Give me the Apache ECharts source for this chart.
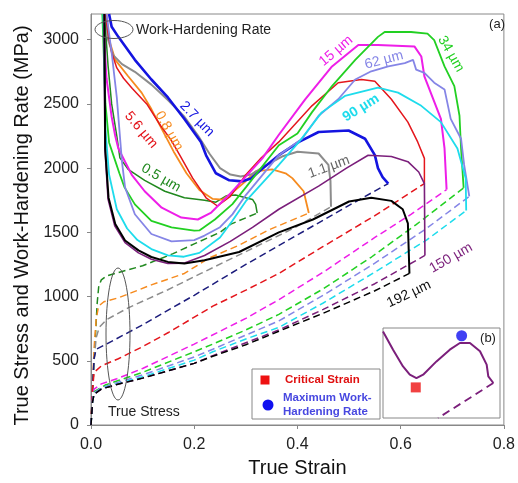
<!DOCTYPE html>
<html>
<head>
<meta charset="utf-8">
<script src="https://cdn.jsdelivr.net/npm/echarts@6/dist/echarts.min.js"></script>
<style>html,body{margin:0;padding:0;background:#fff;}#c{width:518px;height:483px;}</style>
</head>
<body>
<div id="c"></div>
<script>
// ---- tick values ----
const strainTicks = [0, 0.2, 0.4, 0.6, 0.8];
const stressTicks = [0, 500, 1000, 1500, 2000, 2500, 3000];

// ---- work-hardening rate curves [true strain, MPa] ----
const whr05 = [[0.026,3200],[0.033,2800],[0.04,2500],[0.05,2250],[0.056,2080],[0.072,1990],[0.104,1905],[0.143,1820],[0.181,1769],[0.22,1750],[0.242,1735],[0.262,1784],[0.28,1790],[0.3,1769],[0.313,1756],[0.319,1718],[0.322,1650]];
const whr08 = [[0.03,3200],[0.035,3000],[0.047,2843],[0.072,2715],[0.098,2588],[0.117,2460],[0.137,2306],[0.16,2130],[0.185,1960],[0.21,1830],[0.236,1760],[0.255,1755],[0.274,1810],[0.3,1900],[0.319,1974],[0.351,1990],[0.377,1960],[0.39,1922],[0.412,1820],[0.422,1650]];
const whr11 = [[0.028,3200],[0.033,3000],[0.043,2880],[0.06,2810],[0.085,2750],[0.117,2650],[0.149,2530],[0.181,2400],[0.207,2255],[0.23,2110],[0.25,2000],[0.27,1950],[0.29,1935],[0.31,1950],[0.338,2020],[0.37,2090],[0.4,2127],[0.441,2114],[0.46,2025],[0.464,1900],[0.465,1700]];
const whr27 = [[0.035,3200],[0.04,3100],[0.053,3022],[0.085,2843],[0.117,2690],[0.149,2550],[0.181,2383],[0.213,2204],[0.223,2100],[0.242,1960],[0.268,1905],[0.293,1897],[0.31,1920],[0.33,1990],[0.364,2101],[0.403,2204],[0.441,2281],[0.499,2293],[0.531,2229],[0.55,2101],[0.556,2000],[0.565,1930],[0.576,1880]];
const whr56 = [[0.028,3200],[0.033,3050],[0.04,2900],[0.05,2780],[0.063,2700],[0.08,2620],[0.108,2500],[0.135,2330],[0.155,2220],[0.172,2101],[0.197,1922],[0.223,1769],[0.245,1705],[0.27,1780],[0.3,1948],[0.33,2080],[0.364,2204],[0.428,2485],[0.479,2665],[0.524,2690],[0.55,2677],[0.582,2536],[0.614,2358],[0.633,2204],[0.646,2076],[0.646,1880]];
const whr15 = [[0.023,3200],[0.03,2700],[0.04,2400],[0.047,2250],[0.053,2153],[0.066,2050],[0.079,1948],[0.104,1820],[0.137,1692],[0.175,1615],[0.207,1600],[0.233,1654],[0.268,1794],[0.332,2076],[0.364,2260],[0.415,2536],[0.467,2792],[0.518,2958],[0.556,2958],[0.627,2946],[0.64,2869],[0.646,2715],[0.678,2383],[0.685,2153],[0.689,1833]];
const whr34 = [[0.022,3200],[0.028,2500],[0.035,2200],[0.045,2080],[0.055,1960],[0.065,1850],[0.085,1718],[0.117,1590],[0.156,1539],[0.2,1513],[0.21,1515],[0.24,1600],[0.274,1720],[0.3,1850],[0.364,2178],[0.4,2270],[0.428,2434],[0.467,2639],[0.512,2843],[0.556,3022],[0.569,3060],[0.62,3060],[0.652,3048],[0.665,2997],[0.685,2792],[0.704,2639],[0.714,2408],[0.717,2153],[0.722,1846]];
const whr62 = [[0.03,3200],[0.04,2900],[0.05,2550],[0.055,2300],[0.06,2050],[0.066,1850],[0.085,1641],[0.117,1487],[0.156,1430],[0.2,1440],[0.22,1475],[0.25,1540],[0.274,1640],[0.3,1790],[0.364,2101],[0.409,2229],[0.441,2408],[0.479,2536],[0.512,2690],[0.543,2754],[0.576,2792],[0.608,2818],[0.624,2843],[0.63,2767],[0.646,2741],[0.665,2665],[0.685,2613],[0.697,2383],[0.717,2229],[0.723,2025],[0.733,1780]];
const whr90 = [[0.024,3200],[0.028,2300],[0.035,1950],[0.05,1680],[0.07,1530],[0.09,1440],[0.117,1370],[0.149,1320],[0.18,1310],[0.21,1340],[0.25,1460],[0.274,1590],[0.3,1743],[0.364,2025],[0.403,2204],[0.447,2434],[0.492,2562],[0.556,2626],[0.595,2588],[0.64,2485],[0.678,2358],[0.71,2153],[0.726,1922],[0.727,1670]];
const whr150 = [[0.025,3200],[0.027,2150],[0.033,1760],[0.046,1550],[0.066,1420],[0.092,1340],[0.117,1290],[0.149,1257],[0.18,1260],[0.22,1320],[0.27,1430],[0.313,1539],[0.364,1680],[0.441,1860],[0.495,2000],[0.537,2100],[0.582,2090],[0.614,2050],[0.635,1970],[0.646,1880],[0.647,1320]];
const whr192 = [[0.026,3200],[0.0275,2150],[0.034,1770],[0.047,1565],[0.066,1437],[0.092,1360],[0.117,1308],[0.149,1270],[0.181,1257],[0.22,1283],[0.287,1347],[0.364,1500],[0.43,1600],[0.5,1740],[0.543,1770],[0.582,1745],[0.604,1680],[0.614,1570],[0.617,1180]];

// ---- true stress curves [true strain, MPa] ----
const stress05 = [[0,0],[0.006,500],[0.01,800],[0.012,950],[0.015,1080],[0.02,1130],[0.03,1160],[0.047,1180],[0.1,1240],[0.159,1334],[0.2,1410],[0.25,1500],[0.271,1564],[0.322,1650]];
const stress08 = [[0,0],[0.003,300],[0.006,600],[0.01,820],[0.0146,925],[0.025,960],[0.053,990],[0.117,1091],[0.181,1180],[0.229,1300],[0.287,1400],[0.345,1520],[0.422,1650]];
const stress11 = [[0,0],[0.003,250],[0.006,500],[0.01,680],[0.016,760],[0.03,820],[0.072,912],[0.149,1053],[0.213,1180],[0.3,1350],[0.396,1539],[0.465,1700]];
const stress27 = [[0,0],[0.003,300],[0.006,520],[0.01,590],[0.03,630],[0.1,780],[0.2,1010],[0.3,1250],[0.4,1480],[0.5,1710],[0.576,1880]];
const stress56 = [[0,0],[0.003,280],[0.006,410],[0.02,460],[0.053,516],[0.1,610],[0.15,720],[0.236,925],[0.3,1050],[0.364,1180],[0.45,1390],[0.55,1630],[0.646,1880]];
const stress15 = [[0,0],[0.003,220],[0.006,280],[0.02,320],[0.05,360],[0.1,440],[0.2,630],[0.3,830],[0.364,976],[0.45,1190],[0.55,1460],[0.62,1640],[0.689,1833]];
const stress34 = [[0,0],[0.003,200],[0.006,260],[0.0275,311],[0.1,410],[0.2,570],[0.236,630],[0.3,740],[0.364,861],[0.45,1060],[0.5435,1308],[0.63,1560],[0.722,1846]];
const stress62 = [[0,0],[0.003,190],[0.006,250],[0.02,290],[0.05,330],[0.1,390],[0.2,530],[0.236,590],[0.3,700],[0.364,810],[0.45,1010],[0.55,1260],[0.65,1530],[0.733,1780]];
const stress90 = [[0,0],[0.003,180],[0.006,240],[0.02,285],[0.05,320],[0.1,375],[0.2,505],[0.236,570],[0.3,670],[0.364,760],[0.45,950],[0.55,1190],[0.65,1440],[0.727,1670]];
const stress150 = [[0,0],[0.003,180],[0.006,240],[0.02,280],[0.05,315],[0.1,365],[0.2,480],[0.236,540],[0.3,640],[0.364,740],[0.45,900],[0.55,1100],[0.647,1320]];
const stress192 = [[0,0],[0.003,180],[0.006,240],[0.02,280],[0.05,315],[0.1,365],[0.2,480],[0.236,535],[0.3,625],[0.364,730],[0.45,870],[0.55,1045],[0.617,1180]];

// ---- inset (b), normalised schematic ----
const insetWhr = [[0,0.962],[0.086,0.759],[0.171,0.573],[0.229,0.481],[0.286,0.444],[0.343,0.481],[0.457,0.629],[0.571,0.759],[0.657,0.833],[0.743,0.833],[0.829,0.741],[0.886,0.593],[0.9,0.463],[0.943,0.389]];
const insetStress = [[0.943,0.389],[0.471,0]];
const insetCritical = [[0.28,0.34]];
const insetMaxWhr = [[0.672,0.914]];

const FONT = 'Liberation Sans, Arial, Helvetica, sans-serif';

const curves = [
  {id:'0.5 µm', whr:whr05, st:stress05, c:'#21891f', cs:'#21891f', w:1.5},
  {id:'0.8 µm', whr:whr08, st:stress08, c:'#f68b1f', cs:'#f68b1f', w:1.8},
  {id:'1.1 µm', whr:whr11, st:stress11, c:'#8c8c8c', cs:'#8c8c8c', w:2},
  {id:'2.7 µm', whr:whr27, st:stress27, c:'#1414e0', cs:'#1c1c7c', w:2.6},
  {id:'5.6 µm', whr:whr56, st:stress56, c:'#e4161c', cs:'#e4161c', w:1.5},
  {id:'15 µm',  whr:whr15, st:stress15, c:'#ee1ee8', cs:'#ee1ee8', w:2},
  {id:'34 µm',  whr:whr34, st:stress34, c:'#22d022', cs:'#22d022', w:1.8},
  {id:'62 µm',  whr:whr62, st:stress62, c:'#8585e6', cs:'#8585e6', w:1.8},
  {id:'90 µm',  whr:whr90, st:stress90, c:'#1edcec', cs:'#1edcec', w:1.8},
  {id:'150 µm', whr:whr150, st:stress150, c:'#7b1f7b', cs:'#7b1f7b', w:1.6},
  {id:'192 µm', whr:whr192, st:stress192, c:'#000000', cs:'#000000', w:2}
];

const series = [];
curves.forEach(cv => {
  series.push({name: cv.id + ' stress', type:'line', xAxisIndex:0, yAxisIndex:0, data: cv.st,
    showSymbol:false, silent:true, z:2,
    lineStyle:{color:cv.cs, width:1.5, type:[7,4]}});
});
curves.forEach(cv => {
  series.push({name: cv.id + ' WHR', type:'line', xAxisIndex:0, yAxisIndex:0, data: cv.whr,
    showSymbol:false, silent:true, z:3,
    lineStyle:{color:cv.c, width:cv.w}});
});
series.push({name:'inset WHR', type:'line', xAxisIndex:1, yAxisIndex:1, data: insetWhr, showSymbol:false, silent:true, z:5,
  lineStyle:{color:'#7b1f7b', width:2}});
series.push({name:'inset stress', type:'line', xAxisIndex:1, yAxisIndex:1, data: insetStress, showSymbol:false, silent:true, z:5,
  lineStyle:{color:'#7b1f7b', width:1.8, type:[8,5]}});
series.push({name:'Critical Strain', type:'scatter', xAxisIndex:1, yAxisIndex:1, data: insetCritical, symbol:'rect', symbolSize:10, z:6,
  itemStyle:{color:'#ee1111'}});
series.push({name:'Maximum Work-Hardening Rate', type:'scatter', xAxisIndex:1, yAxisIndex:1, data: insetMaxWhr, symbol:'circle', symbolSize:11, z:6,
  itemStyle:{color:'#1010f0'}});

function lbl(text, x, y, deg, color, bold) {
  return {type:'text', x:x, y:y, rotation: deg*Math.PI/180, z:20,
    style:{text:text, fill:color, font:(bold?'bold ':'')+'14px '+FONT,
      textAlign:'center', textVerticalAlign:'middle', align:'center', verticalAlign:'middle'}};
}
function txt(text, x, y, size, color, bold, align) {
  return {type:'text', x:x, y:y, z:20,
    style:{text:text, fill:color, font:(bold?'bold ':'')+size+'px '+FONT,
      textAlign:align||'left', textVerticalAlign:'middle', align:align||'left', verticalAlign:'middle'}};
}

const graphics = [
  lbl('2.7 µm', 197, 119, -46, '#1414e0'),
  lbl('0.8 µm', 169, 131, -60, '#f68b1f'),
  lbl('5.6 µm', 141, 130, -50, '#e4161c'),
  lbl('0.5 µm', 161, 178, -30, '#21891f'),
  lbl('15 µm', 336, 51, 40, '#ee1ee8'),
  lbl('62 µm', 384, 60, 15, '#8585e6'),
  lbl('34 µm', 451, 54, -60, '#22d022'),
  lbl('90 µm', 361, 108, 32, '#1edcec', true),
  lbl('1.1 µm', 329, 167, 20, '#666666'),
  lbl('150 µm', 451, 258, 30, '#7b1f7b'),
  lbl('192 µm', 409, 294, 25, '#111111'),
  {type:'ellipse', shape:{cx:114, cy:29.5, rx:19, ry:9}, z:20, style:{fill:'none', stroke:'#555', lineWidth:1}},
  txt('Work-Hardening Rate', 136, 30, 14, '#222'),
  {type:'ellipse', shape:{cx:118, cy:334, rx:12, ry:66}, z:20, style:{fill:'none', stroke:'#555', lineWidth:1}},
  txt('True Stress', 108, 412, 14, '#222'),
  txt('(a)', 505, 24, 13, '#222', false, 'right'),
  txt('(b)', 488, 338, 13, '#222', false, 'center'),
  // legend box
  {type:'rect', shape:{x:252, y:369, width:128, height:50}, z:15, style:{fill:'#fff', stroke:'#888', lineWidth:1}},
  {type:'rect', shape:{x:260.5, y:375.5, width:9, height:9}, z:16, style:{fill:'#ee1111'}},
  {type:'circle', shape:{cx:268, cy:405, r:5.5}, z:16, style:{fill:'#1010f0'}},
  txt('Critical Strain', 285, 380, 11.5, '#e01010', true),
  txt('Maximum Work-', 283, 398, 11.5, '#4848e0', true),
  txt('Hardening Rate', 283, 412, 11.5, '#4848e0', true)
];

const chart = echarts.init(document.getElementById('c'), null, {renderer:'canvas'});
chart.setOption({
  animation:false,
  backgroundColor:'#fff',
  textStyle:{fontFamily:FONT},
  grid:[
    {left:91, right:10, top:14, bottom:52.5, show:true, borderColor:'#888', borderWidth:1, backgroundColor:'transparent'},
    {left:383, top:328, width:117, height:90, show:true, borderColor:'#888', borderWidth:1, backgroundColor:'#fff', z:4}
  ],
  xAxis:[
    {gridIndex:0, type:'value', min:strainTicks[0], max:strainTicks[strainTicks.length-1], interval:0.2,
      axisLine:{show:true, lineStyle:{color:'#888'}},
      axisTick:{show:true, inside:false, length:4, lineStyle:{color:'#888'}},
      axisLabel:{color:'#222', fontSize:16, margin:12, fontFamily:FONT, formatter:v=>Number(v).toFixed(1)},
      splitLine:{show:false},
      name:'True Strain', nameLocation:'middle', nameGap:33,
      nameTextStyle:{fontSize:20, color:'#111', fontFamily:FONT}},
    {gridIndex:1, type:'value', min:0, max:1, show:false}
  ],
  yAxis:[
    {gridIndex:0, type:'value', min:0, max:3200, interval:500,
      axisLine:{show:true, lineStyle:{color:'#888'}},
      axisTick:{show:true, inside:false, length:4, lineStyle:{color:'#888'}, customValues:stressTicks},
      axisLabel:{color:'#222', fontSize:16, margin:12, fontFamily:FONT, customValues:stressTicks,
        formatter:v=> (stressTicks.indexOf(Number(v))>=0 ? String(v) : '')},
      splitLine:{show:false},
      name:'True Stress and Work-Hardening Rate (MPa)', nameLocation:'middle', nameGap:58,
      nameTextStyle:{fontSize:20, color:'#111', fontFamily:FONT, padding:[0,12,0,0]}},
    {gridIndex:1, type:'value', min:0, max:1, show:false}
  ],
  series:series,
  graphic:graphics
});
</script>
</body>
</html>
